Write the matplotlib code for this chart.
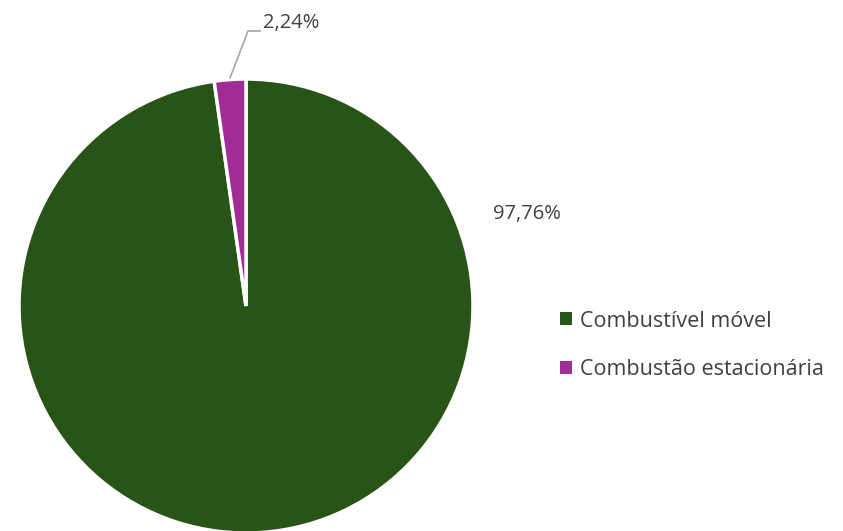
import matplotlib.pyplot as plt
from matplotlib.patches import Patch

# data
categories = ['Combustível móvel', 'Combustão estacionária']
values = [97.76, 2.24]
labels = ['97,76%', '2,24%']
colors = ['#285418', '#a02c96']

plt.rcParams['font.family'] = ['Open Sans', 'DejaVu Sans']
txt_color = '#404040'

W, H = 843, 531
fig = plt.figure(figsize=(W / 100, H / 100), dpi=100)
ax = fig.add_axes([0, 0, 1, 1])

cx, cy, r = 246, H - 306, 227
wedges, _ = ax.pie(values, colors=colors, startangle=90, counterclock=False,
                   center=(cx, cy), radius=r, frame=True,
                   wedgeprops=dict(edgecolor='white', linewidth=2.5))
ax.set_xlim(0, W)
ax.set_ylim(0, H)
ax.set_aspect('equal')
ax.axis('off')

# data labels
ax.text(493, H - 214, labels[0], fontsize=14.5, color=txt_color, va='center', ha='left')
ax.text(263, H - 23, labels[1], fontsize=14.5, color=txt_color, va='center', ha='left')
ax.plot([230, 248, 260], [H - 78, H - 31, H - 31], color='#a6a6a6', lw=1.2)

# legend
handles = [Patch(facecolor=c, edgecolor='none') for c in colors]
leg = ax.legend(handles, categories, loc='center left', bbox_to_anchor=(541 / W, 1 - 345.5 / H),
                frameon=False, fontsize=15.5, labelcolor=txt_color,
                handlelength=0.55, handleheight=0.55, handletextpad=0.35, labelspacing=1.3)

fig.savefig('out.png', dpi=100)
